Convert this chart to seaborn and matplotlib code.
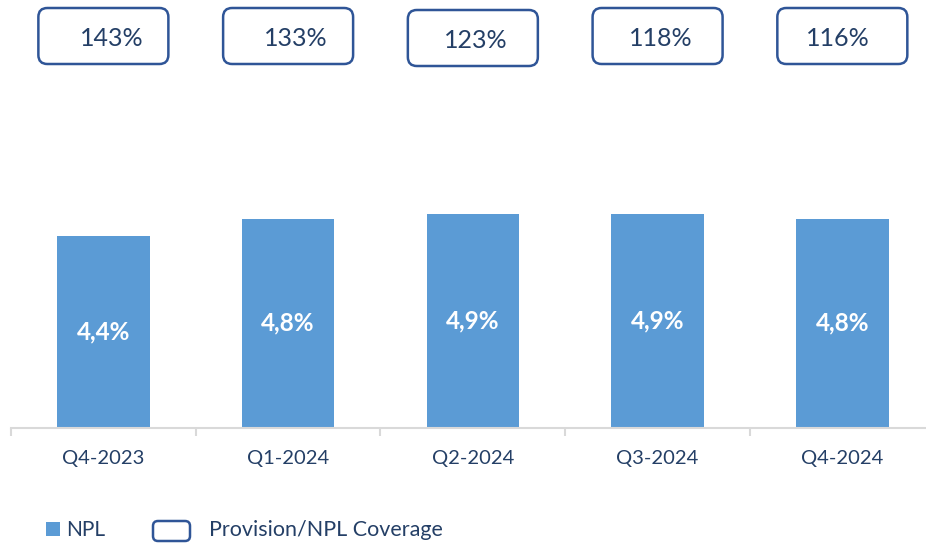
import matplotlib
matplotlib.use("Agg")
import matplotlib.pyplot as plt
from matplotlib.patches import FancyBboxPatch, Rectangle
from matplotlib.transforms import IdentityTransform
import seaborn as sns
import pandas as pd

quarters = ["Q4-2023", "Q1-2024", "Q2-2024", "Q3-2024", "Q4-2024"]
npl = [4.4, 4.8, 4.9, 4.9, 4.8]
coverage = [143, 133, 123, 118, 116]
legend_labels = ["NPL", "Provision/NPL Coverage"]

# small layout nudges of the coverage boxes/text (pixels)
text_dx = [8, 8, 3, 3, -5]
box_dy = [0, 0, -2, 0, 0]

BAR = "#5B9BD5"
NAVY = "#243F66"
EDGE = "#2F5597"
AXIS = "#D9D9D9"
FONT = ["Lato", "DejaVu Sans"]

sns.set_theme(style="white")
plt.rcParams["font.family"] = FONT

W, H = 926, 547
fig = plt.figure(figsize=(W / 100, H / 100), dpi=100)
ax = fig.add_axes([11 / W, (H - 428) / H, 923.7 / W, 428 / H])

df = pd.DataFrame({"quarter": quarters, "npl": npl})
sns.barplot(data=df, x="quarter", y="npl", color=BAR, saturation=1,
            width=0.5, ax=ax, linewidth=0)
ax.set_xlim(-0.5, len(quarters) - 0.5)
ax.set_ylim(0, 428 / 43.6)
ax.set_xlabel("")
ax.set_ylabel("")
ax.set_yticks([])
for s in ["left", "right", "top"]:
    ax.spines[s].set_visible(False)
ax.spines["bottom"].set_color(AXIS)
ax.spines["bottom"].set_linewidth(1.5)
ax.set_xticks(range(len(quarters)))
ax.set_xticklabels(quarters, fontsize=14.5, color=NAVY)
ax.tick_params(axis="x", which="major", length=0, pad=16)
ax.set_xticks([i - 0.5 for i in range(len(quarters) + 1)], minor=True)
ax.tick_params(axis="x", which="minor", bottom=True, length=6, width=1.5,
               color=AXIS, direction="out")
ax.patch.set_alpha(0)

# labels inside bars
for i, v in enumerate(npl):
    ax.text(i, v / 2, f"{v:.1f}%".replace(".", ","), ha="center", va="center",
            color="white", fontsize=17.5, fontweight="bold")

fig.canvas.draw()
# coverage boxes at top
for i, c in enumerate(coverage):
    cx, _ = ax.transData.transform((i, 0))
    bw, bh = 130, 56
    y0 = H - 64 + box_dy[i]
    box = FancyBboxPatch((cx - bw / 2, y0), bw, bh,
                         boxstyle="round,pad=0,rounding_size=9",
                         transform=IdentityTransform(), facecolor="white",
                         edgecolor=EDGE, linewidth=1.8)
    fig.add_artist(box)
    fig.text((cx + text_dx[i]) / W, 1 - (38 - box_dy[i]) / H, f"{c}%",
             ha="center", va="center", fontsize=18, color=NAVY)

# legend
fig.add_artist(Rectangle((46, H - 536), 14, 14, transform=IdentityTransform(),
                         facecolor=BAR, edgecolor="none"))
fig.text(66 / W, 1 - 530 / H, legend_labels[0], ha="left", va="center",
         fontsize=15, color=NAVY)
fig.add_artist(FancyBboxPatch((153, H - 541), 37, 20,
                              boxstyle="round,pad=0,rounding_size=5",
                              transform=IdentityTransform(), facecolor="white",
                              edgecolor=EDGE, linewidth=1.8))
fig.text(209 / W, 1 - 530 / H, legend_labels[1], ha="left", va="center",
         fontsize=15.5, color=NAVY)

fig.savefig("out.png", dpi=100)
